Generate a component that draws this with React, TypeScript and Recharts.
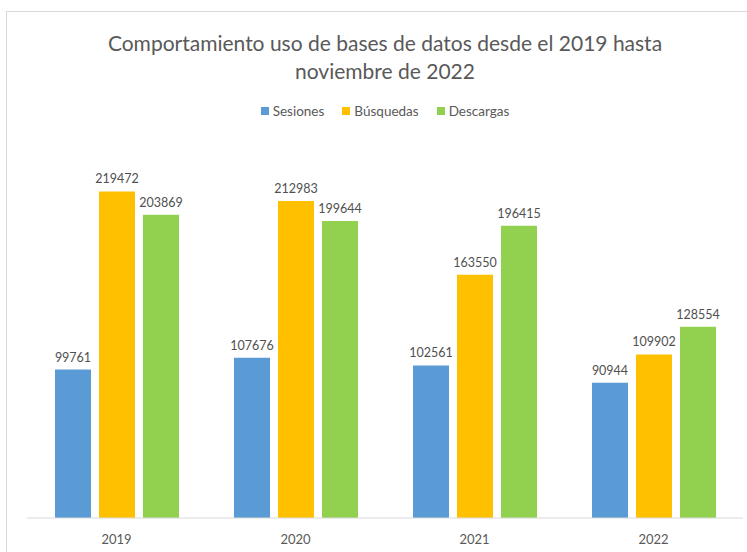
import React from 'react'
import { BarChart, Bar, XAxis, YAxis, LabelList } from 'recharts'

const years = ['2019', '2020', '2021', '2022']
const sesiones = [99761, 107676, 102561, 90944]
const busquedas = [219472, 212983, 163550, 109902]
const descargas = [203869, 199644, 196415, 128554]

const series = [
  { key: 'sesiones', name: 'Sesiones', color: '#5B9BD5' },
  { key: 'busquedas', name: 'Búsquedas', color: '#FFC000' },
  { key: 'descargas', name: 'Descargas', color: '#92D050' }
]

const data = years.map((year, i) => ({
  year,
  sesiones: sesiones[i],
  busquedas: busquedas[i],
  descargas: descargas[i]
}))

const font = 'Lato, "Open Sans", sans-serif'

export default function App(): React.ReactElement {
  return (
    <div style={{ position: 'absolute', left: 0, top: 0, width: 747, height: 552, background: '#fff', overflow: 'hidden', fontFamily: font }}>
      <div style={{ position: 'absolute', left: 6, top: 11, width: 800, height: 600, border: '1px solid #d9d9d9' }} />
      <div style={{ position: 'absolute', left: 0, top: 29, width: 770, textAlign: 'center', color: '#595959', fontSize: 21, lineHeight: '28px' }}>
        Comportamiento uso de bases de datos desde el 2019 hasta
        <br />
        noviembre de 2022
      </div>
      <div style={{ position: 'absolute', left: 0, top: 103, width: 770, display: 'flex', justifyContent: 'center', gap: 18, color: '#595959', fontSize: 13.5 }}>
        {series.map(s => (
          <span key={s.key} style={{ display: 'flex', alignItems: 'center', gap: 4 }}>
            <span style={{ width: 8, height: 8, background: s.color, display: 'inline-block' }} />
            {s.name}
          </span>
        ))}
      </div>
      <div style={{ position: 'absolute', left: 0, top: 0 }}>
        <BarChart width={747} height={552} data={data} margin={{ top: 146, right: 4, bottom: 10, left: 27 }} barSize={36} barGap={8}>
          <XAxis
            dataKey="year"
            height={24}
            tickLine={false}
            tickMargin={11}
            axisLine={{ stroke: '#d9d9d9' }}
            tick={{ fill: '#595959', fontSize: 13, fontFamily: font }}
          />
          <YAxis hide domain={[0, 250000]} />
          {series.map(s => (
            <Bar key={s.key} dataKey={s.key} name={s.name} fill={s.color} isAnimationActive={false}>
              <LabelList dataKey={s.key} position="top" offset={8} fill="#505050" fontSize={12.5} fontFamily={font} />
            </Bar>
          ))}
        </BarChart>
      </div>
    </div>
  )
}
